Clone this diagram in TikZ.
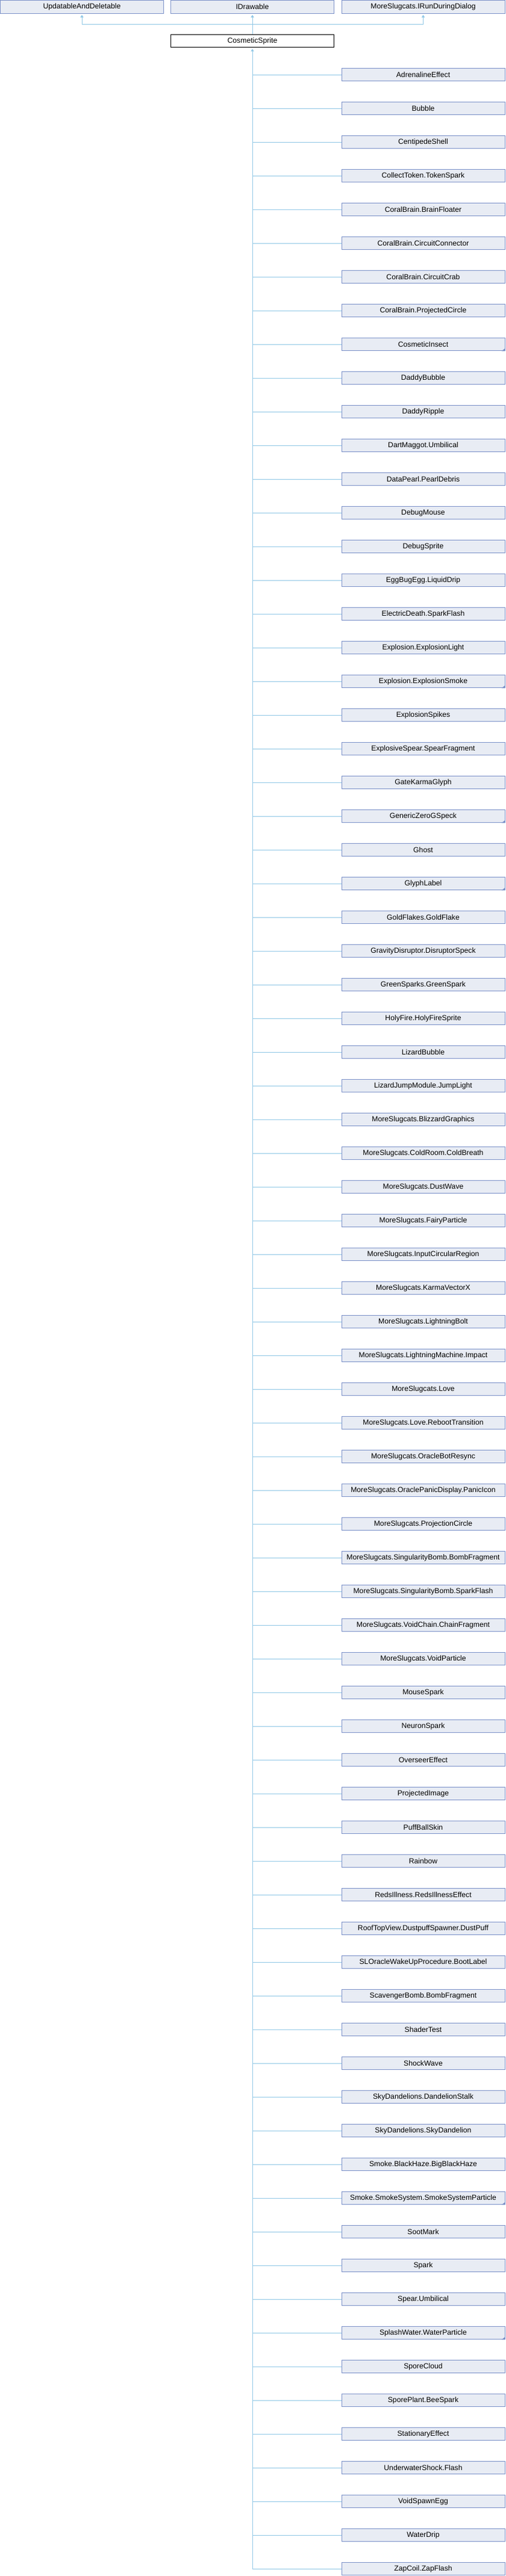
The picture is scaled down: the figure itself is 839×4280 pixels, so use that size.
\documentclass[tikz,border=0pt]{standalone}
\usepackage{fontspec}
\setmainfont{Liberation Sans}
\usetikzlibrary{arrows.meta}
\definecolor{fillcol}{RGB}{232,236,244}
\definecolor{bordercol}{RGB}{122,144,200}
\definecolor{linecol}{RGB}{145,200,230}
\tikzset{
  basebox/.style={line width=1pt, minimum width=271pt, minimum height=21.6pt, inner sep=0pt, font=\fontsize{12.2}{14}\selectfont},
  classbox/.style={basebox, draw=bordercol, fill=fillcol},
  mainbox/.style={basebox, draw=black, fill=white},
  conn/.style={draw=linecol, line width=1pt},
  uptip/.style={-{Triangle[length=4pt,width=5pt]}, shorten >=2pt}
}
\begin{document}
\begin{tikzpicture}[x=1pt,y=-1pt]
\useasboundingbox (0,0) rectangle (839,4280);
\node[classbox] (u) at (136,11.5) {UpdatableAndDeletable};
\node[classbox] (d) at (419,11.5) {IDrawable};
\node[classbox] (r) at (702.5,11.5) {MoreSlugcats.IRunDuringDialog};
\node[mainbox] (cs) at (419,68) {CosmeticSprite};
\draw[conn] (cs.north) -- ++(0,-16.3) coordinate (j);
\draw[conn,uptip] (j) -| (u.south);
\draw[conn,uptip] (j) -- (d.south);
\draw[conn,uptip] (j) -| (r.south);
\foreach \name [count=\i] in {AdrenalineEffect, Bubble, CentipedeShell, CollectToken.TokenSpark, CoralBrain.BrainFloater, CoralBrain.CircuitConnector, CoralBrain.CircuitCrab, CoralBrain.ProjectedCircle, CosmeticInsect, DaddyBubble, DaddyRipple, DartMaggot.Umbilical, DataPearl.PearlDebris, DebugMouse, DebugSprite, EggBugEgg.LiquidDrip, ElectricDeath.SparkFlash, Explosion.ExplosionLight, Explosion.ExplosionSmoke, ExplosionSpikes, ExplosiveSpear.SpearFragment, GateKarmaGlyph, GenericZeroGSpeck, Ghost, GlyphLabel, GoldFlakes.GoldFlake, GravityDisruptor.DisruptorSpeck, GreenSparks.GreenSpark, HolyFire.HolyFireSprite, LizardBubble, LizardJumpModule.JumpLight, MoreSlugcats.BlizzardGraphics, MoreSlugcats.ColdRoom.ColdBreath, MoreSlugcats.DustWave, MoreSlugcats.FairyParticle, MoreSlugcats.InputCircularRegion, MoreSlugcats.KarmaVectorX, MoreSlugcats.LightningBolt, MoreSlugcats.LightningMachine.Impact, MoreSlugcats.Love, MoreSlugcats.Love.RebootTransition, MoreSlugcats.OracleBotResync, MoreSlugcats.OraclePanicDisplay.PanicIcon, MoreSlugcats.ProjectionCircle, MoreSlugcats.SingularityBomb.BombFragment, MoreSlugcats.SingularityBomb.SparkFlash, MoreSlugcats.VoidChain.ChainFragment, MoreSlugcats.VoidParticle, MouseSpark, NeuronSpark, OverseerEffect, ProjectedImage, PuffBallSkin, Rainbow, RedsIllness.RedsIllnessEffect, RoofTopView.DustpuffSpawner.DustPuff, SLOracleWakeUpProcedure.BootLabel, ScavengerBomb.BombFragment, ShaderTest, ShockWave, SkyDandelions.DandelionStalk, SkyDandelions.SkyDandelion, Smoke.BlackHaze.BigBlackHaze, Smoke.SmokeSystem.SmokeSystemParticle, SootMark, Spark, Spear.Umbilical, SplashWater.WaterParticle, SporeCloud, SporePlant.BeeSpark, StationaryEffect, UnderwaterShock.Flash, VoidSpawnEgg, WaterDrip, ZapCoil.ZapFlash} {
  \node[classbox] (c\i) at (702.5,{124+56*(\i-1)}) {\name};
  \draw[conn] (c\i.west -| cs.south) -- (c\i.west);
}
\draw[conn,uptip] (cs.south |- c75.west) -- (cs.south);
\foreach \k in {9,19,23,25,64,68} {
  \fill[bordercol] (c\k.south east) -- ++(-6,0) -- ++(6,-4.5) -- cycle;
}
\end{tikzpicture}
\end{document}
